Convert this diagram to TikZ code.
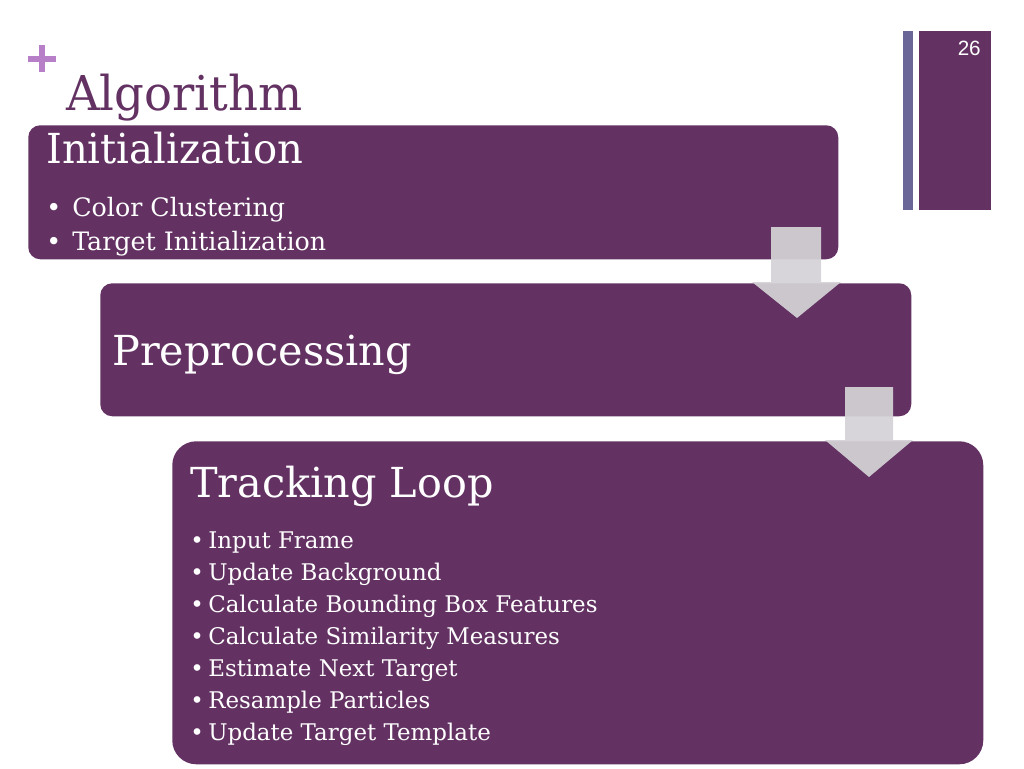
\documentclass[tikz,border=0pt]{standalone}
\usepackage{fontspec}
\setmainfont{DejaVu Serif}
\newfontfamily\numfont{Liberation Sans}
\definecolor{plum}{RGB}{99,50,99}
\definecolor{lilac}{RGB}{183,127,200}
\definecolor{slatebar}{RGB}{106,102,152}
\definecolor{arrowgray}{RGB}{212,210,214}
\tikzset{
  box/.style={fill=plum, draw=none, anchor=north west, inner sep=0pt},
  head/.style={text=white, anchor=base west, inner sep=0pt, font=\fontsize{31}{36}\selectfont},
  item/.style={text=white, anchor=base west, inner sep=0pt},
  bigarrow/.style={fill=arrowgray, fill opacity=0.93, draw=none},
}
\begin{document}
\begin{tikzpicture}[x=0.75pt,y=-0.75pt]
\useasboundingbox (0,0) rectangle (1024,768);
% right bars
\fill[slatebar] (903,31) rectangle (913,210);
\fill[plum] (919,31) rectangle (991,210);
\node[anchor=base east, inner sep=0pt, text=white, font=\numfont\fontsize{15.5}{18}\selectfont] (pg) at (981,55) {26};
% plus sign
\fill[lilac] (28,56) rectangle (56,62);
\fill[lilac] (39,45) rectangle (45,72);
% title
\node[anchor=base west, inner sep=0pt, text=plum, font=\fontsize{36}{42}\selectfont] (title) at (66,110) {\scalebox{0.97}[1]{Algorithm}};
% boxes
\node[box, rounded corners=9pt, minimum width=607.5pt, minimum height=100.5pt] (init) at (28,125) {};
\node[box, rounded corners=9pt, minimum width=608.25pt, minimum height=99.75pt] (pre) at (100,283) {};
\node[box, rounded corners=18pt, minimum width=608.25pt, minimum height=242.25pt] (track) at (172,441) {};
% arrows
\fill[bigarrow] (771,227) -- (821,227) -- (821,282) -- (841,282) -- (797,318) -- (752,282) -- (771,282) -- cycle;
\fill[bigarrow] (845,387) -- (893,387) -- (893,440) -- (913,440) -- (869,477) -- (825,440) -- (845,440) -- cycle;
% texts
\node[head] (t1) at (46,163) {\scalebox{0.97}[1]{Initialization}};
\begin{scope}[every node/.style={item, font=\fontsize{19}{22}\selectfont}]
\node (b1a) at (46,216) {•};
\node (i1a) at (72,216) {Color Clustering};
\node (b1b) at (46,250) {•};
\node (i1b) at (72,250) {Target Initialization};
\end{scope}
\node[head] (t2) at (112,365) {Preprocessing};
\node[head] (t3) at (190,497) {Tracking Loop};
\begin{scope}[every node/.style={item, font=\fontsize{17.2}{21}\selectfont}]
\foreach \y/\txt [count=\i] in {548/Input Frame, 580/Update Background, 612/Calculate Bounding Box Features, 644/Calculate Similarity Measures, 676/Estimate Next Target, 708/Resample Particles, 740/Update Target Template}{
  \node (b3\i) at (190,\y) {•};
  \node (i3\i) at (208,\y) {\txt};
}
\end{scope}
\end{tikzpicture}
\end{document}
